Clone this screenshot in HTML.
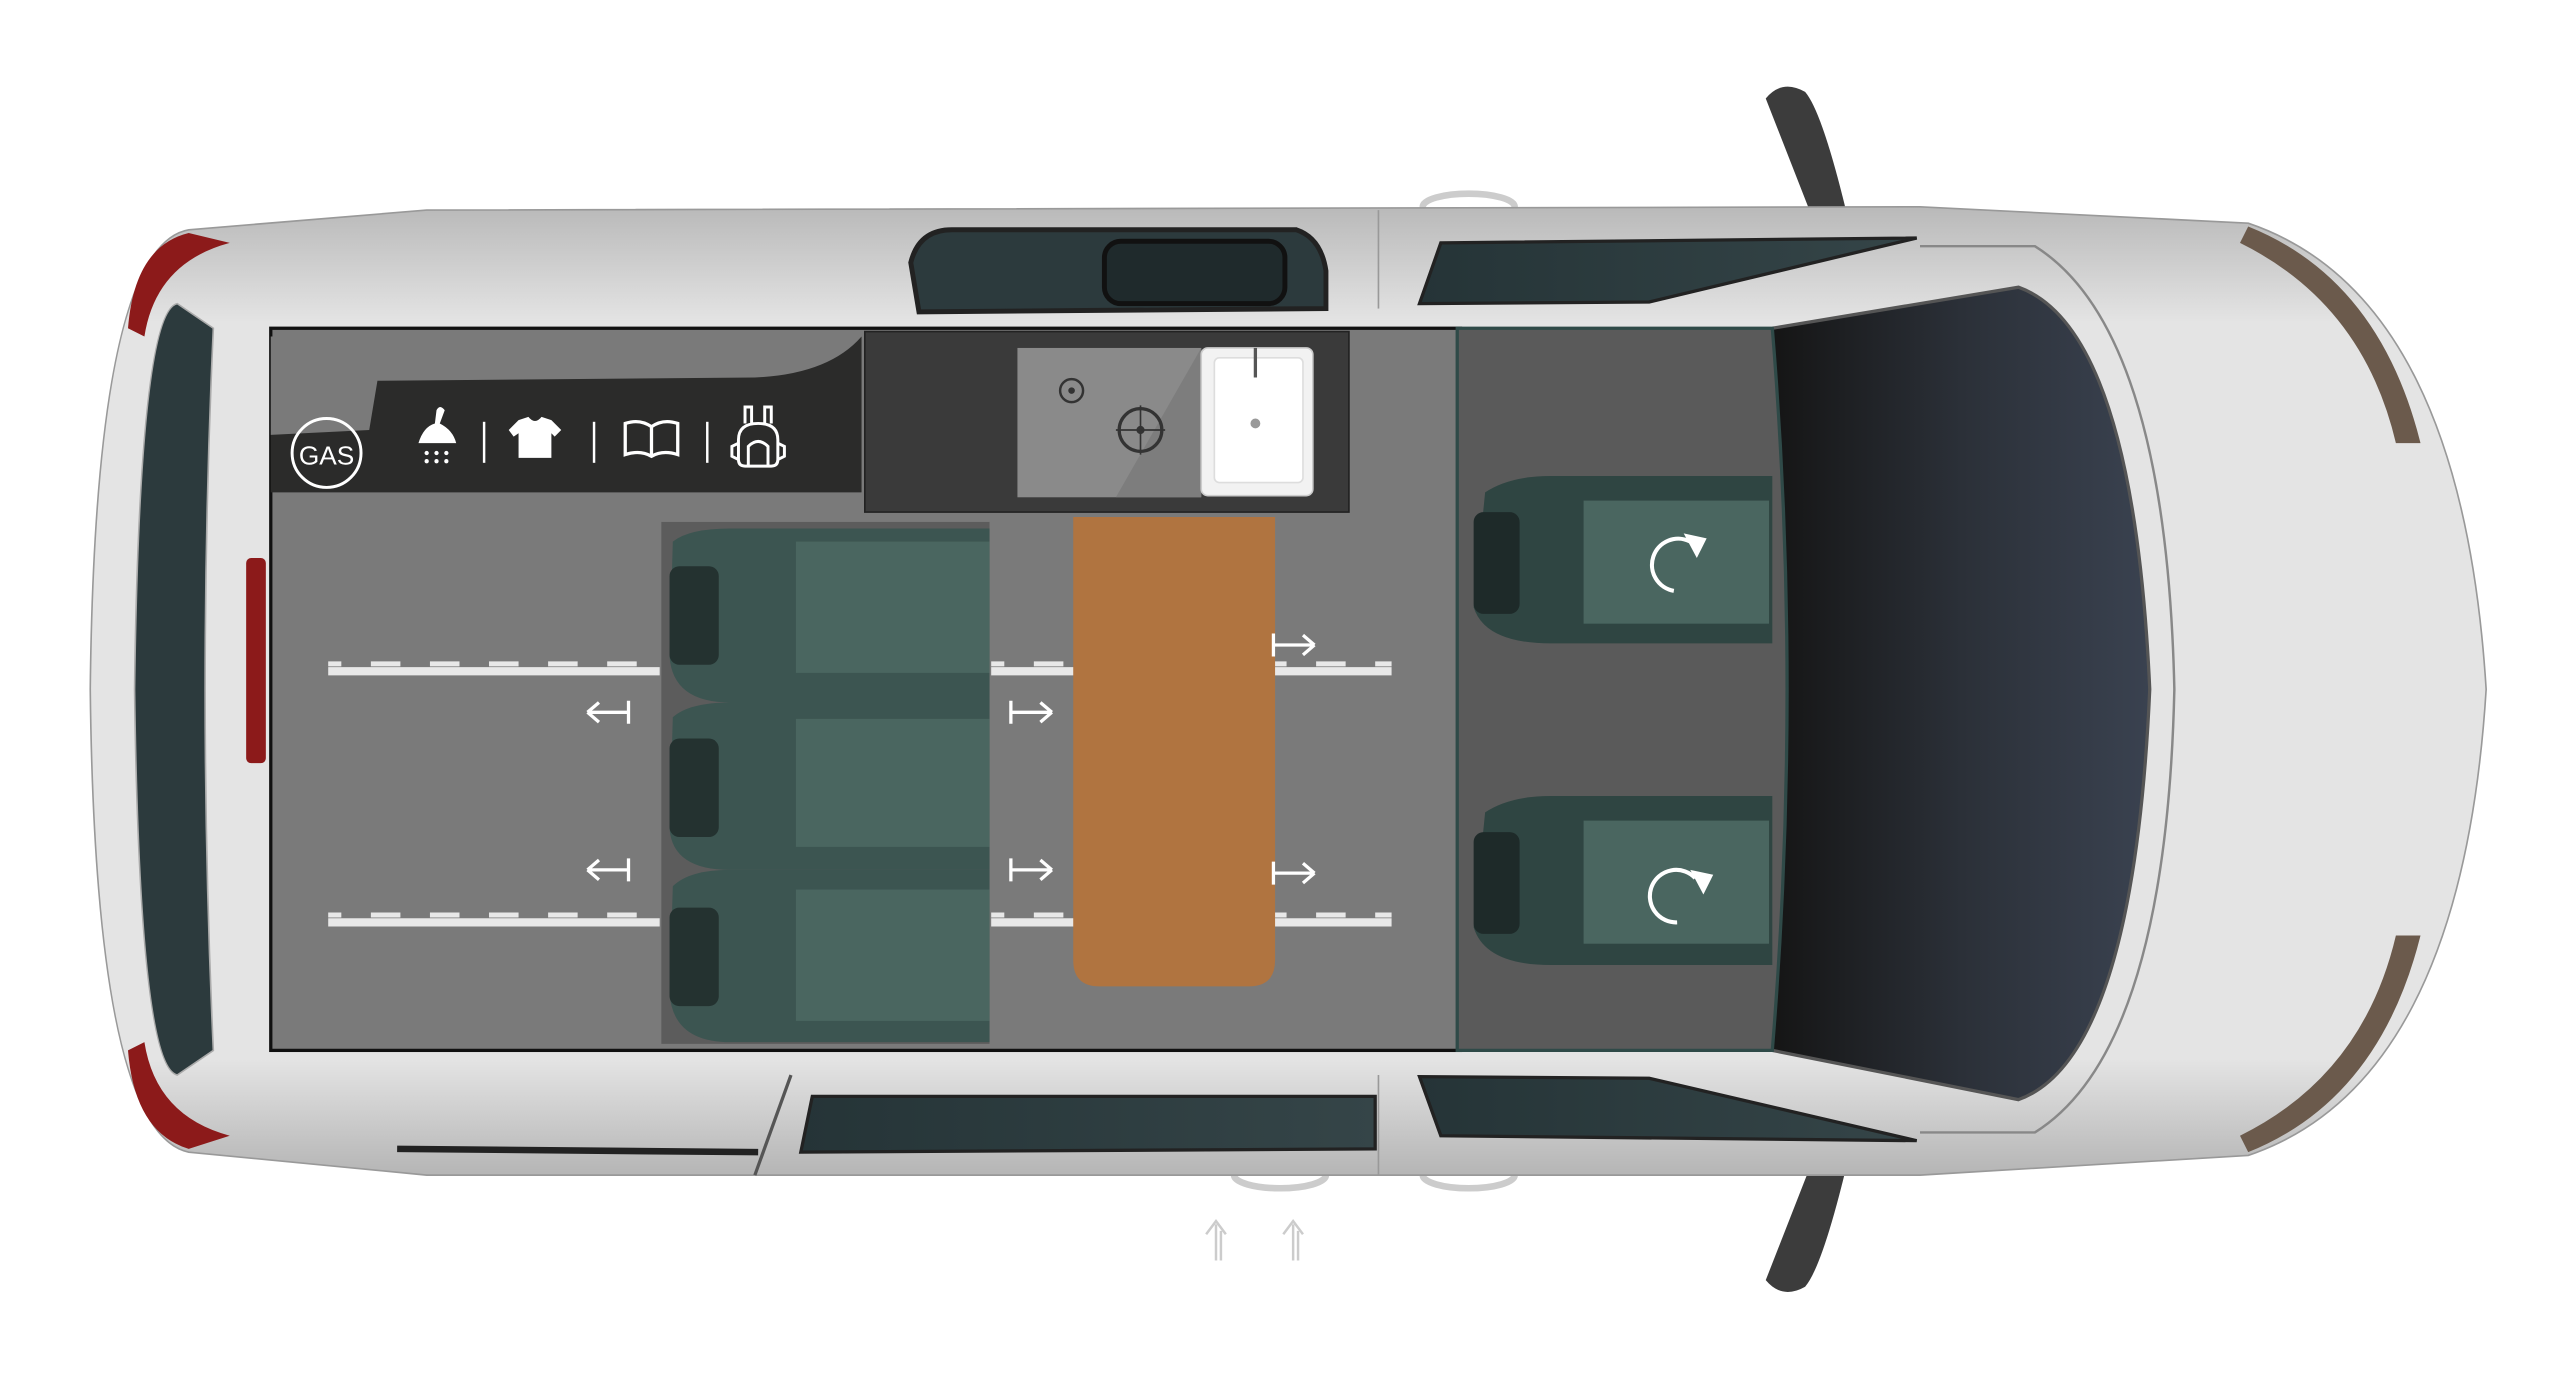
<!DOCTYPE html>
<html><head><meta charset="utf-8"><style>
html,body{margin:0;padding:0;background:#fff;width:2560px;height:1377px;overflow:hidden}
svg{display:block}
</style></head><body>
<svg width="2560" height="1377" viewBox="0 0 1560 839" preserveAspectRatio="none" xmlns="http://www.w3.org/2000/svg">
<defs>
<linearGradient id="body" x1="0" y1="0" x2="0" y2="1">
<stop offset="0" stop-color="#b9b9b9"/><stop offset="0.12" stop-color="#e4e4e4"/><stop offset="0.88" stop-color="#e4e4e4"/><stop offset="1" stop-color="#b5b5b5"/></linearGradient>
<linearGradient id="ws" x1="0" y1="0" x2="1" y2="0">
<stop offset="0" stop-color="#151515"/><stop offset="0.5" stop-color="#2b3038"/><stop offset="1" stop-color="#3a4250"/></linearGradient>
<linearGradient id="win" x1="0" y1="0" x2="1" y2="0">
<stop offset="0" stop-color="#253437"/><stop offset="1" stop-color="#354548"/></linearGradient>
</defs>
<!-- mirrors -->
<path d="M1076 60 Q1086 48 1100 56 Q1112 70 1130 150 L1112 152 Z" fill="#3c3c3c"/>
<path d="M1076 780 Q1086 792 1100 784 Q1112 770 1130 690 L1112 688 Z" fill="#3c3c3c"/>
<!-- hooks -->
<ellipse cx="895" cy="126" rx="28" ry="8" fill="none" stroke="#ccc" stroke-width="4"/>
<ellipse cx="780" cy="716" rx="28" ry="8" fill="none" stroke="#ccc" stroke-width="4"/>
<ellipse cx="895" cy="716" rx="28" ry="8" fill="none" stroke="#ccc" stroke-width="4"/>
<!-- body -->
<path d="M115 140 L260 128 L1170 126 L1370 136 Q1500 180 1515 420 Q1500 660 1370 704 L1170 716 L260 716 L115 702 Q58 690 55 420 Q58 150 115 140 Z" fill="url(#body)" stroke="#999" stroke-width="1"/>
<!-- rear lights -->
<path d="M115 142 Q82 150 78 200 L88 205 Q95 160 140 148 Z" fill="#8c1a1a"/>
<path d="M115 700 Q82 690 78 640 L88 635 Q95 680 140 692 Z" fill="#8c1a1a"/>
<rect x="150" y="340" width="12" height="125" rx="3" fill="#8c1a1a"/>
<!-- rear window -->
<path d="M108 185 Q85 190 82 420 Q85 650 108 655 L130 640 Q120 420 130 200 Z" fill="#2c3a3d" stroke="#aaa"/>
<!-- front nose details -->
<path d="M1370 138 Q1450 170 1475 270 L1460 270 Q1440 185 1365 148 Z" fill="#6b5a4c"/>
<path d="M1370 702 Q1450 670 1475 570 L1460 570 Q1440 655 1365 692 Z" fill="#6b5a4c"/>
<!-- windshield -->
<path d="M1080 200 L1230 175 Q1300 200 1310 420 Q1300 645 1230 670 L1080 640 Z" fill="url(#ws)"/>
<path d="M1080 200 L1230 175 Q1300 200 1310 420 Q1300 645 1230 670 L1080 640" fill="none" stroke="#555" stroke-width="2"/>
<path d="M1170 150 L1240 150 Q1320 200 1325 420 Q1320 640 1240 690 L1170 690" fill="none" stroke="#888" stroke-width="1.5"/>
<!-- side windows -->
<path d="M555 160 Q560 140 580 140 L790 140 Q805 145 808 165 L808 188 L560 190 Z" fill="#2c3a3d" stroke="#222" stroke-width="3"/>
<rect x="673" y="147" width="110" height="38" rx="10" fill="#1f2a2c" stroke="#111" stroke-width="3"/>
<path d="M878 148 L1168 145 L1005 184 L865 185 Z" fill="url(#win)" stroke="#222" stroke-width="2"/>
<path d="M878 692 L1168 695 L1005 657 L865 656 Z" fill="url(#win)" stroke="#222" stroke-width="2"/>
<path d="M495 668 L838 668 L838 700 L488 702 Z" fill="url(#win)" stroke="#222" stroke-width="2"/>
<line x1="840" y1="128" x2="840" y2="188" stroke="#999"/><line x1="840" y1="655" x2="840" y2="716" stroke="#999"/>
<line x1="460" y1="716" x2="482" y2="655" stroke="#555" stroke-width="2"/>
<line x1="242" y1="700" x2="462" y2="702" stroke="#222" stroke-width="4"/>
<!-- floor -->
<rect x="165" y="200" width="725" height="440" fill="#7a7a7a" stroke="#111" stroke-width="2"/>
<path d="M888 200 L1080 200 Q1098 420 1080 640 L888 640 Z" fill="#5a5a5a" stroke="#2f4a48" stroke-width="2"/>
<!-- black band -->
<path d="M165 205 L525 205 L525 300 L165 300 Z" fill="#2b2b2a"/>
<path d="M165 205 L525 205 Q505 228 460 230 L230 232 L225 262 L165 265 Z" fill="#7a7a7a"/>
<!-- icons -->
<circle cx="199" cy="276" r="21" fill="none" stroke="#fff" stroke-width="1.8"/>
<text x="199" y="283" font-family="Liberation Sans, sans-serif" font-size="16" fill="#fff" text-anchor="middle">GAS</text>
<path d="M255 270 Q258 260 265 258 L266 250 Q268 246 271 250 L268 258 Q276 262 278 270 Z" fill="#fff"/>
<g fill="#fff"><circle cx="260" cy="276" r="1.3"/><circle cx="266" cy="276" r="1.3"/><circle cx="272" cy="276" r="1.3"/><circle cx="260" cy="281" r="1.3"/><circle cx="266" cy="281" r="1.3"/><circle cx="272" cy="281" r="1.3"/></g>
<line x1="295" y1="257" x2="295" y2="282" stroke="#fff" stroke-width="1.5"/>
<path d="M316 256 L322 254 Q326 259 330 254 L336 256 L342 262 L338 266 L336 264 L336 279 L316 279 L316 264 L313 266 L310 262 Z" fill="#fff"/>
<line x1="362" y1="257" x2="362" y2="282" stroke="#fff" stroke-width="1.5"/>
<path d="M381 258 Q390 255 397 260 Q404 255 413 258 L413 277 Q404 274 397 278 Q390 274 381 277 Z M397 260 L397 277" fill="none" stroke="#fff" stroke-width="2"/>
<line x1="431" y1="257" x2="431" y2="282" stroke="#fff" stroke-width="1.5"/>
<path d="M450 268 Q450 258 462 258 Q474 258 474 268 L474 280 Q474 284 470 284 L454 284 Q450 284 450 280 Z M456 284 L456 272 Q462 266 468 272 L468 284 M454 258 L454 248 L458 248 L458 258 M466 258 L466 248 L470 248 L470 258 M450 270 L446 272 L446 278 L450 280 M474 270 L478 272 L478 278 L474 280" fill="none" stroke="#fff" stroke-width="1.8"/>
<!-- kitchen -->
<path d="M527 202 L822 202 L822 312 L527 312 Z" fill="#3a3a3a" stroke="#222"/>
<rect x="620" y="212" width="112" height="91" fill="#8a8a8a"/>
<path d="M680 303 L732 212 L732 303 Z" fill="#7d7d7d"/>
<circle cx="653" cy="238" r="7" fill="none" stroke="#333" stroke-width="1.5"/><circle cx="653" cy="238" r="2" fill="#333"/>
<circle cx="695" cy="262" r="13" fill="none" stroke="#333" stroke-width="2"/><circle cx="695" cy="262" r="2.5" fill="#333"/>
<line x1="680" y1="262" x2="710" y2="262" stroke="#333"/><line x1="695" y1="247" x2="695" y2="277" stroke="#333"/>
<rect x="732" y="212" width="68" height="90" rx="4" fill="#f2f2f2" stroke="#ccc"/>
<rect x="740" y="218" width="54" height="76" rx="3" fill="#fff" stroke="#ddd"/>
<circle cx="765" cy="258" r="3" fill="#999"/>
<line x1="765" y1="212" x2="765" y2="230" stroke="#555" stroke-width="2"/>
<!-- tracks -->
<g stroke="#e8e8e8" stroke-width="5">
<line x1="200" y1="409" x2="402" y2="409"/><line x1="200" y1="562" x2="402" y2="562"/>
<line x1="604" y1="409" x2="655" y2="409"/><line x1="604" y1="562" x2="655" y2="562"/>
<line x1="776" y1="409" x2="848" y2="409"/><line x1="776" y1="562" x2="848" y2="562"/>
</g>
<g stroke="#e8e8e8" stroke-width="3" stroke-dasharray="18 18" stroke-dashoffset="10">
<line x1="200" y1="404.5" x2="402" y2="404.5"/><line x1="200" y1="557.5" x2="402" y2="557.5"/>
<line x1="604" y1="404.5" x2="655" y2="404.5"/><line x1="604" y1="557.5" x2="655" y2="557.5"/>
<line x1="776" y1="404.5" x2="848" y2="404.5"/><line x1="776" y1="557.5" x2="848" y2="557.5"/>
</g>
<!-- bench -->
<rect x="403" y="318" width="200" height="318" fill="#5c5c5c"/>
<g>
<path d="M410 330 Q420 322 445 322 L603 322 L603 428 L445 428 Q410 428 408 400 Z" fill="#3c5551"/>
<rect x="485" y="330" width="118" height="80" fill="#4a6660"/>
<rect x="408" y="345" width="30" height="60" rx="6" fill="#243230"/>
<path d="M410 437 Q420 428 445 428 L603 428 L603 530 L445 530 Q410 530 408 505 Z" fill="#3c5551"/>
<rect x="485" y="438" width="118" height="78" fill="#4a6660"/>
<rect x="408" y="450" width="30" height="60" rx="6" fill="#243230"/>
<path d="M410 540 Q420 530 445 530 L603 530 L603 635 L445 635 Q410 635 408 605 Z" fill="#3c5551"/>
<rect x="485" y="542" width="118" height="80" fill="#4a6660"/>
<rect x="408" y="553" width="30" height="60" rx="6" fill="#243230"/>
</g>
<!-- table -->
<path d="M654 315 L777 315 L777 585 Q777 601 761 601 L670 601 Q654 601 654 585 Z" fill="#b07440"/>
<!-- arrows -->
<g stroke="#fff" stroke-width="2" fill="none">
<path d="M358 434 L383 434 M383 427 L383 441 M358 434 L365 428 M358 434 L365 440"/>
<path d="M358 530 L383 530 M383 523 L383 537 M358 530 L365 524 M358 530 L365 536"/>
<path d="M616 434 L641 434 M616 427 L616 441 M641 434 L634 428 M641 434 L634 440"/>
<path d="M616 530 L641 530 M616 523 L616 537 M641 530 L634 524 M641 530 L634 536"/>
<path d="M776 393 L801 393 M776 386 L776 400 M801 393 L794 387 M801 393 L794 399"/>
<path d="M776 532 L801 532 M776 525 L776 539 M801 532 L794 526 M801 532 L794 538"/>
</g>
<g stroke="#ccc" stroke-width="1.5" fill="none">
<path d="M741 768 L741 746 M735 752 L741 744 L747 752 M744 768 L744 750"/>
<path d="M788 768 L788 746 M782 752 L788 744 L794 752 M791 768 L791 750"/>
</g>
<!-- front seats -->
<g>
<path d="M905 300 Q920 290 945 290 L1080 290 L1080 392 L945 392 Q905 392 898 370 Z" fill="#2f4542"/>
<rect x="965" y="305" width="113" height="75" fill="#4a6660"/>
<rect x="898" y="312" width="28" height="62" rx="6" fill="#1e2a29"/>
<path d="M905 495 Q920 485 945 485 L1080 485 L1080 588 L945 588 Q905 588 898 565 Z" fill="#2f4542"/>
<rect x="965" y="500" width="113" height="75" fill="#4a6660"/>
<rect x="898" y="507" width="28" height="62" rx="6" fill="#1e2a29"/>
</g>
<g stroke="#fff" stroke-width="2.5" fill="none">
<path d="M1030 330 A16 16 0 1 0 1020 360"/>
<path d="M1033 535 A16 16 0 1 0 1022 562"/>
</g>
<path d="M1026 325 L1040 328 L1034 340 Z" fill="#fff"/>
<path d="M1030 530 L1044 533 L1038 545 Z" fill="#fff"/>
</svg>
</body></html>
